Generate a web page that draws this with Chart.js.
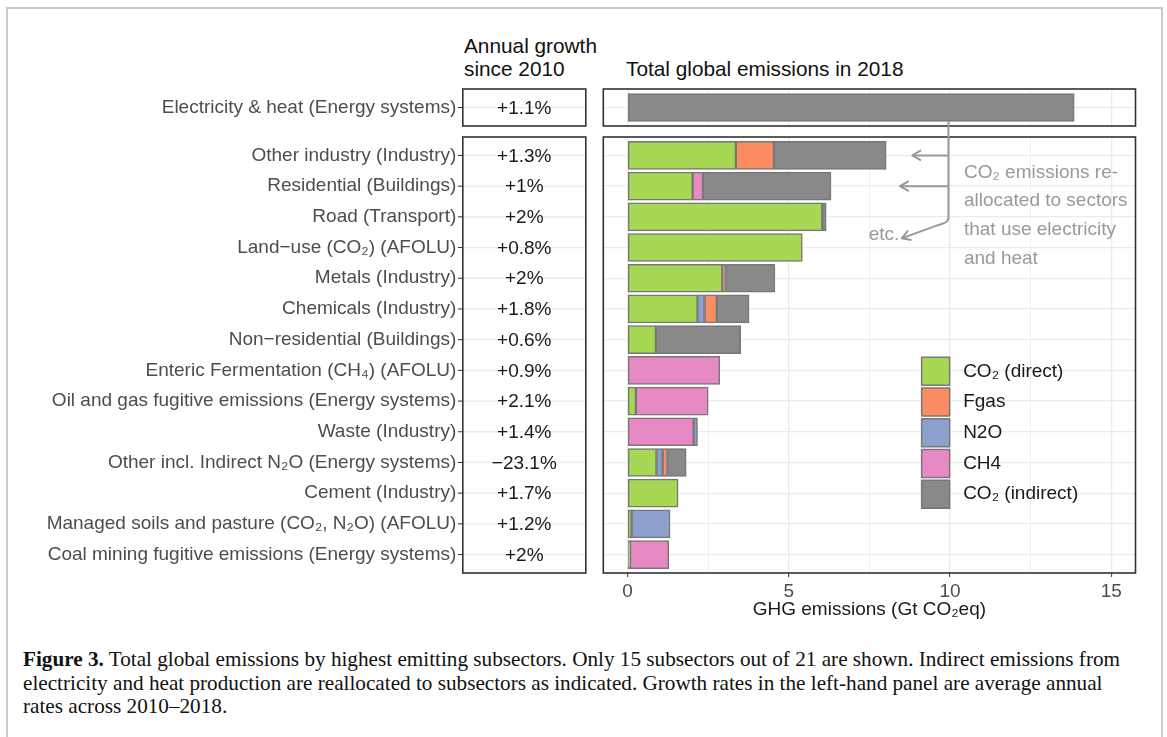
<!DOCTYPE html>
<html lang="en">
<head>
<meta charset="UTF-8">
<title>Total global emissions by subsector</title>
<script src="https://cdn.jsdelivr.net/npm/chart.js@4"></script>
<style>
  body { margin: 0; background: #fff; width: 1167px; height: 737px; overflow: hidden; position: relative;
         font-family: "Liberation Sans", Arial, sans-serif; }
  #frame { position: absolute; left: 6px; top: 7px; width: 1153px; height: 760px; border: 2px solid #cacaca; }
  .head { position: absolute; font-size: 20.8px; line-height: 23px; color: #111; white-space: nowrap; }
  .panel { position: absolute; left: 0; width: 1167px; }
  #caption { position: absolute; left: 23px; top: 648px; font-family: "Liberation Serif", serif; font-size: 21.2px;
             line-height: 23.5px; color: #111; white-space: nowrap; }
</style>
</head>
<body>
<div id="frame"></div>
<div class="head" style="left:464px; top:34px;">Annual growth<br>since 2010</div>
<div class="head" style="left:626px; top:57px;">Total global emissions in 2018</div>

<div class="panel" style="top:80px; height:47px;"><canvas id="topChart"></canvas></div>
<div class="panel" style="top:127px; height:500px;"><canvas id="mainChart"></canvas></div>

<div id="caption"><b>Figure 3.</b> Total global emissions by highest emitting subsectors. Only 15 subsectors out of 21 are shown. Indirect emissions from<br>electricity and heat production are reallocated to subsectors as indicated. Growth rates in the left-hand panel are average annual<br>rates across 2010–2018.</div>

<script>
// top panel: electricity & heat
const topRows = ['Electricity & heat (Energy systems)'];
const topGrowth = ['+1.1%'];
const topIndirect = [13.85];

// lower panel subsectors
const rows = [
  'Other industry (Industry)',
  'Residential (Buildings)',
  'Road (Transport)',
  'Land\u2212use (CO\u2082) (AFOLU)',
  'Metals (Industry)',
  'Chemicals (Industry)',
  'Non\u2212residential (Buildings)',
  'Enteric Fermentation (CH\u2084) (AFOLU)',
  'Oil and gas fugitive emissions (Energy systems)',
  'Waste (Industry)',
  'Other incl. Indirect N\u2082O (Energy systems)',
  'Cement (Industry)',
  'Managed soils and pasture (CO\u2082, N\u2082O) (AFOLU)',
  'Coal mining fugitive emissions (Energy systems)'
];
const growth = ['+1.3%', '+1%', '+2%', '+0.8%', '+2%', '+1.8%', '+0.6%', '+0.9%', '+2.1%', '+1.4%', '\u221223.1%', '+1.7%', '+1.2%', '+2%'];

// Gt CO2eq per gas
const co2Direct   = [3.36, 2.02, 6.04, 5.42, 2.94, 2.17, 0.88, 0,    0.26, 0,    0.90, 1.57, 0.13, 0.08];
const ch4         = [0,    0.32, 0,    0,    0,    0,    0,    2.86, 2.24, 2.05, 0,    0,    0,    1.20];
const n2o         = [0,    0,    0,    0,    0,    0.22, 0,    0,    0,    0.12, 0.19, 0,    1.19, 0];
const fgas        = [1.18, 0,    0,    0,    0.10, 0.38, 0,    0,    0,    0,    0.15, 0,    0,    0];
const co2Indirect = [3.48, 3.97, 0.12, 0,    1.53, 1.00, 2.63, 0,    0,    0,    0.58, 0,    0,    0];

const xTicks = [0, 2.5, 5, 7.5, 10, 12.5, 15];
const legendOrder = ['CO\u2082 (direct)', 'Fgas', 'N2O', 'CH4', 'CO\u2082 (indirect)'];
const noteLines = ['CO\u2082 emissions re-', 'allocated to sectors', 'that use electricity', 'and heat'];

const colors = {
  'CO\u2082 (direct)': '#A6D854',
  'Fgas': '#FC8D62',
  'N2O': '#8DA0CB',
  'CH4': '#E78AC3',
  'CO\u2082 (indirect)': '#898989'
};

Chart.defaults.font.family = '"Liberation Sans", Arial, sans-serif';
Chart.defaults.font.size = 19;

const GRID = '#ebebeb';
const NOTE = '#999999';

// x scale shared by both panels
function xScale(showLabels) {
  return {
    type: 'linear', min: -0.75, max: 15.75, stacked: true,
    afterBuildTicks: s => { s.ticks = xTicks.map(v => ({ value: v })); },
    ticks: {
      display: showLabels, color: '#4d4d4d', padding: 3, maxRotation: 0, autoSkip: false,
      callback: v => (v % 5 === 0 ? String(v) : '')
    },
    grid: {
      color: GRID,
      lineWidth: c => (c.tick && c.tick.value % 5 === 0 ? 1.3 : 0.8),
      drawTicks: showLabels, tickLength: 4, tickWidth: 1,
      tickColor: c => (c.tick && c.tick.value % 5 === 0 ? '#333' : 'rgba(0,0,0,0)')
    },
    border: { display: false },
    title: {
      display: showLabels, text: 'GHG emissions (Gt CO\u2082eq)', color: '#1a1a1a',
      padding: { top: 0, bottom: 6 }
    },
    afterFit: s => {
      s.height = showLabels ? 54 : 0;
      s.paddingLeft = 0; s.paddingRight = 0;
    }
  };
}

// y label axis: fixed width, no extra vertical padding from the wide tick padding
function fitY(s) {
  s.width = 603.3;
  s.paddingTop = 0;
  s.paddingBottom = 0;
}

// boxes, growth column and tick marks next to it
function panelPlugin(growthValues) {
  return {
    id: 'panelDecor',
    beforeDatasetsDraw(chart) {
      const { ctx, chartArea: a, scales: { y } } = chart;
      const gl = a.left - 140.5, gr = a.left - 17.5;
      ctx.save();
      ctx.strokeStyle = GRID;
      ctx.lineWidth = 1.3;
      y.ticks.forEach((t, i) => {
        const py = y.getPixelForTick(i);
        ctx.beginPath(); ctx.moveTo(gl, py); ctx.lineTo(gr, py); ctx.stroke();
      });
      ctx.restore();
    },
    afterDraw(chart) {
      const { ctx, chartArea: a, scales: { y } } = chart;
      const gl = a.left - 140.5, gr = a.left - 17.5;
      ctx.save();
      ctx.strokeStyle = '#333';
      ctx.lineWidth = 1.6;
      ctx.strokeRect(a.left, a.top, a.right - a.left, a.bottom - a.top);
      ctx.strokeRect(gl, a.top, gr - gl, a.bottom - a.top);
      ctx.lineWidth = 1;
      ctx.fillStyle = '#1a1a1a';
      ctx.font = '19px "Liberation Sans", Arial, sans-serif';
      ctx.textAlign = 'center';
      ctx.textBaseline = 'middle';
      y.ticks.forEach((t, i) => {
        const py = y.getPixelForTick(i);
        ctx.beginPath(); ctx.moveTo(gl - 5, py); ctx.lineTo(gl, py); ctx.stroke();
        ctx.fillText(growthValues[i], (gl + gr) / 2, py + 1);
      });
      ctx.restore();
    }
  };
}

function arrowHead(ctx, x1, y1, x2, y2) {
  const ang = Math.atan2(y2 - y1, x2 - x1), len = 10, spread = Math.PI / 6;
  ctx.beginPath();
  ctx.moveTo(x2 - len * Math.cos(ang - spread), y2 - len * Math.sin(ang - spread));
  ctx.lineTo(x2, y2);
  ctx.lineTo(x2 - len * Math.cos(ang + spread), y2 - len * Math.sin(ang + spread));
  ctx.stroke();
}

const TRUNK = 9.95;

// top panel
new Chart(document.getElementById('topChart'), {
  type: 'bar',
  data: {
    labels: topRows,
    datasets: [{
      label: 'CO\u2082 (indirect)', data: topIndirect,
      backgroundColor: colors['CO\u2082 (indirect)'], borderColor: '#777', borderWidth: 1.5,
      borderSkipped: false, barThickness: 28
    }]
  },
  options: {
    indexAxis: 'y', responsive: true, maintainAspectRatio: false, animation: false,
    layout: { padding: { top: 9, bottom: 1, right: 31.5, left: 0 } },
    plugins: { legend: { display: false }, tooltip: { enabled: false } },
    scales: {
      x: xScale(false),
      y: {
        type: 'category', offset: true, stacked: true,
        grid: { color: GRID, lineWidth: 1.3, offset: false, drawTicks: false },
        border: { display: false },
        ticks: { color: '#4d4d4d', padding: 147, autoSkip: false },
        afterFit: fitY
      }
    }
  },
  plugins: [panelPlugin(topGrowth), {
    id: 'trunkTop',
    afterDraw(chart) {
      const { ctx, scales: { x } } = chart;
      const bar = chart.getDatasetMeta(0).data[0];
      const lx = x.getPixelForValue(TRUNK);
      ctx.save();
      ctx.strokeStyle = NOTE; ctx.lineWidth = 2;
      ctx.beginPath(); ctx.moveTo(lx, bar.y + bar.height / 2); ctx.lineTo(lx, chart.height); ctx.stroke();
      ctx.restore();
    }
  }]
});

// lower panel
const series = [
  ['CO\u2082 (direct)', co2Direct],
  ['CH4', ch4],
  ['N2O', n2o],
  ['Fgas', fgas],
  ['CO\u2082 (indirect)', co2Indirect]
];

new Chart(document.getElementById('mainChart'), {
  type: 'bar',
  data: {
    datasets: series.map(([label, vals]) => ({
      label,
      data: vals.map((v, i) => ({ x: v, y: i })).filter(d => d.x > 0),
      backgroundColor: colors[label], borderColor: '#777', borderWidth: 1.5,
      borderSkipped: false, barThickness: 28
    }))
  },
  options: {
    indexAxis: 'y', responsive: true, maintainAspectRatio: false, animation: false,
    layout: { padding: { top: 10, bottom: 0, right: 31.5, left: 0 } },
    plugins: { legend: { display: false }, tooltip: { enabled: false } },
    scales: {
      x: xScale(true),
      y: {
        type: 'linear', min: -0.6, max: rows.length - 0.4, reverse: true, offset: false, stacked: true,
        afterBuildTicks: s => { s.ticks = rows.map((r, i) => ({ value: i })); },
        grid: { color: GRID, lineWidth: 1.3, offset: false, drawTicks: false },
        border: { display: false },
        ticks: { color: '#4d4d4d', padding: 147, autoSkip: false, callback: v => rows[v] },
        afterFit: fitY
      }
    }
  },
  plugins: [panelPlugin(growth), {
    id: 'notesAndLegend',
    afterDraw(chart) {
      const { ctx, scales: { x, y } } = chart;
      const X = v => x.getPixelForValue(v), Y = r => y.getPixelForValue(r);
      const lx = X(TRUNK);
      ctx.save();
      ctx.strokeStyle = NOTE; ctx.lineWidth = 2; ctx.lineJoin = 'round';
      // trunk down to the diagonal
      ctx.beginPath();
      ctx.moveTo(lx, 0);
      ctx.lineTo(lx, Y(2.05));
      ctx.quadraticCurveTo(lx, Y(2.2), X(9.6), Y(2.28));
      ctx.lineTo(X(8.5), Y(2.7));
      ctx.stroke();
      arrowHead(ctx, X(9.6), Y(2.28), X(8.5), Y(2.7));
      // branches
      [[0, 8.83], [1, 8.45]].forEach(([r, tip]) => {
        ctx.beginPath(); ctx.moveTo(lx, Y(r)); ctx.lineTo(X(tip), Y(r)); ctx.stroke();
        arrowHead(ctx, lx, Y(r), X(tip), Y(r));
      });
      ctx.fillStyle = NOTE;
      ctx.font = '19px "Liberation Sans", Arial, sans-serif';
      ctx.textBaseline = 'middle';
      ctx.textAlign = 'right';
      ctx.fillText('etc.', X(8.43), Y(2.6));
      ctx.textAlign = 'left';
      noteLines.forEach((t, k) => ctx.fillText(t, X(10.43), Y(0.56 + 0.93 * k)));

      // legend
      legendOrder.forEach((name, k) => {
        const cy = Y(7 + k) + 1, kx = X(9.12);
        ctx.fillStyle = colors[name];
        ctx.fillRect(kx, cy - 14, 28, 28);
        ctx.strokeStyle = '#777'; ctx.lineWidth = 1.5;
        ctx.strokeRect(kx, cy - 14, 28, 28);
        ctx.fillStyle = '#1a1a1a';
        ctx.fillText(name, kx + 41.5, cy);
      });
      ctx.restore();
    }
  }]
});
</script>
</body>
</html>
